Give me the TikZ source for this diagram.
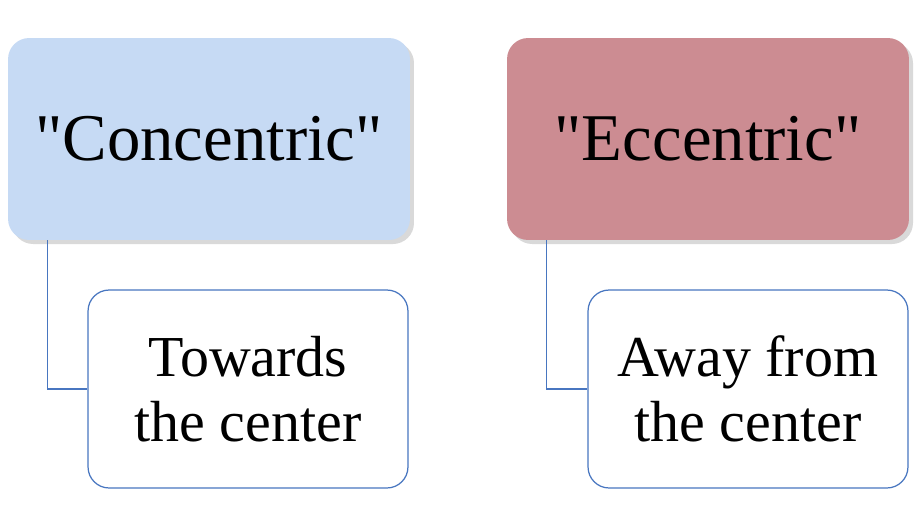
\documentclass[tikz,border=0pt]{standalone}
\usepackage{fontspec}
\setmainfont{Liberation Serif}
\newfontfamily\plainserif{Liberation Serif}
\usetikzlibrary{shadows}
\definecolor{bluetop}{RGB}{198,218,244}
\definecolor{redtop}{RGB}{204,140,146}
\definecolor{boxline}{RGB}{72,118,192}
\tikzset{
  topbox/.style={rounded corners=12pt, minimum width=8.04cm, minimum height=4.04cm,
    font=\plainserif\fontsize{38}{44}\selectfont, drop shadow={opacity=0.3}},
  subbox/.style={draw=boxline, fill=white, rounded corners=12pt, minimum width=6.4cm,
    minimum height=3.96cm, align=center, font=\fontsize{33}{37}\selectfont},
  link/.style={draw=boxline, line width=0.7pt}
}
\begin{document}
\begin{tikzpicture}[x=0.02cm,y=-0.02cm]
    \useasboundingbox (0,0) rectangle (916,527);

    \node[topbox, fill=bluetop] (T1) at (209,139) {"Concentric"};
    \node[topbox, fill=redtop]  (T2) at (708,139) {"Eccentric"};

    \node[subbox, draw=boxline, line width=0.7pt] (S1) at (248,389) {Towards\\the center};
    \node[subbox, draw=boxline, line width=0.7pt] (S2) at (748,389) {Away from\\the center};

    \draw[link] (T1.south west) ++(40,0) |- (S1.west);
    \draw[link] (T2.south west) ++(40,0) |- (S2.west);
\end{tikzpicture}
\end{document}
